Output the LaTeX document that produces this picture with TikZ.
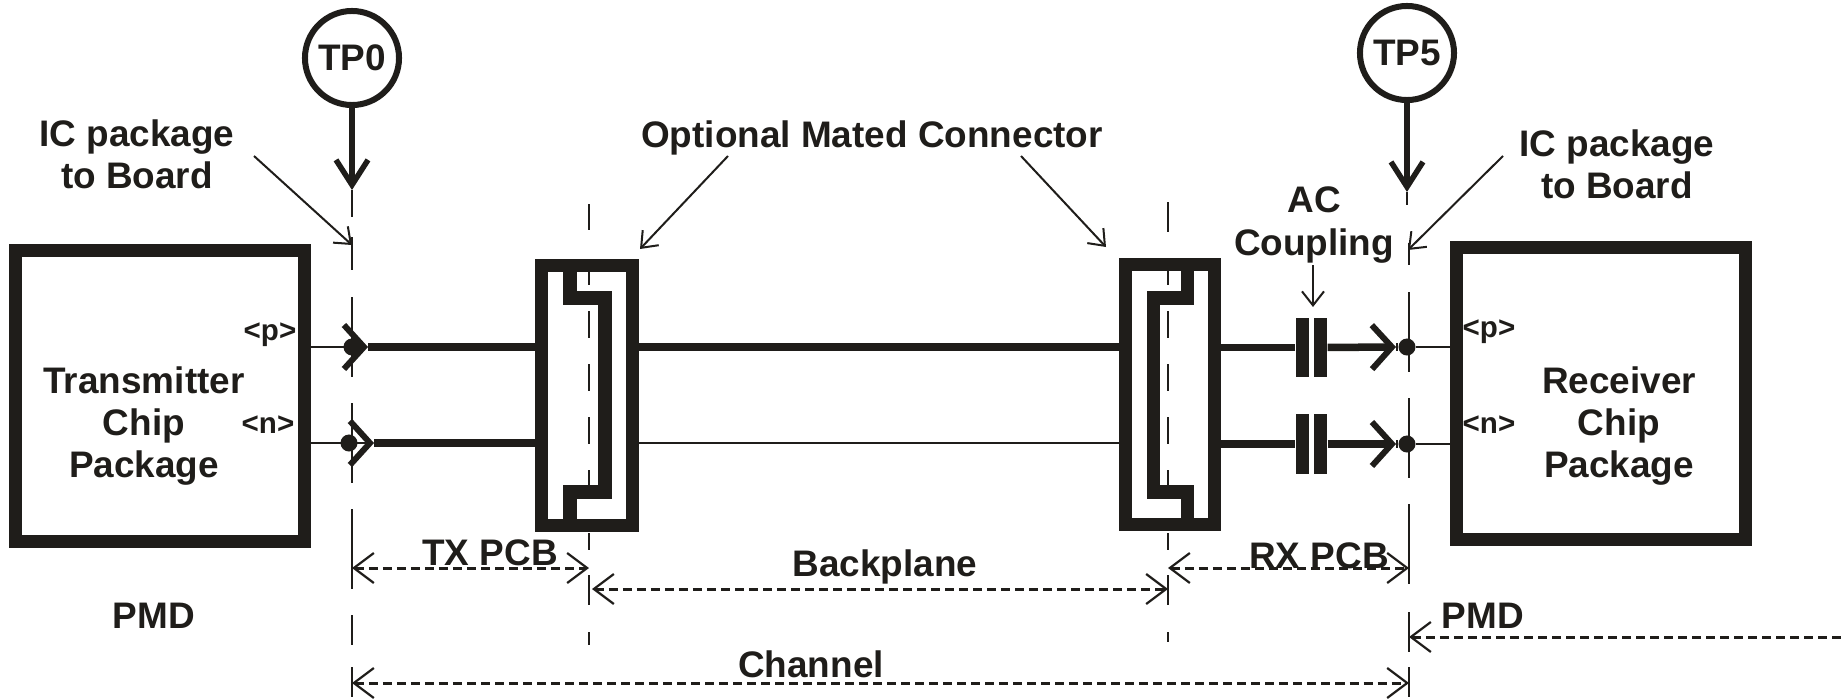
\documentclass[tikz,border=0pt]{standalone}
\usepackage{fontspec}
\setmainfont{Liberation Sans}
\usetikzlibrary{arrows.meta}
\definecolor{ink}{HTML}{1F1D1A}

\begin{document}
\begin{tikzpicture}[
    x=.01cm, y=-.01cm,
    color=ink,
    chip/.style={
      rectangle,
      inner sep=0,
      line width=.13cm,
      minimum width=2.885cm,
      minimum height=2.915cm,
      draw},
    stecker/.style={
      rectangle,
      inner sep=0,
      line width=.13cm,
      minimum height=2.6cm,
      draw},
    steg/.style={line width=.13cm, line join=miter},
    platte/.style={minimum width=.13cm, minimum height=.59cm, inner sep=0, fill=ink},
    tp/.style={
      circle,
      inner sep=0,
      line width=.06cm,
      minimum size=.94cm,
      font=\bfseries\fontsize{10.5}{12}\selectfont,
      draw},
    lötpunkt/.style={circle, fill=ink, inner sep=0, minimum size=.17cm},
    caption/.style={inner sep=0, align=center, font=\bfseries\fontsize{10.5}{12}\selectfont},
    pinname/.style={inner sep=0, anchor=base, font=\bfseries\fontsize{8.4}{10}\selectfont},
    dünn/.style={line width=.025cm},
    dick/.style={line width=.075cm},
    winkel/.style={-{Straight Barb[length=.2cm, width=.44cm, line width=.06cm]}},
    hinweis/.style={line width=.02cm, -{Straight Barb[length=.14cm, width=.22cm, line width=.02cm]}},
    tppfeil/.style={line width=.06cm, -{Straight Barb[length=.25cm, width=.32cm, line width=.055cm]}},
    massgrund/.style={line width=.03cm, dash pattern=on .09cm off .05cm},
    mass/.style={
      massgrund,
      {Straight Barb[length=.2cm, width=.3cm, line width=.022cm]}-{Straight Barb[length=.2cm, width=.3cm, line width=.022cm]}},
    massrest/.style={
      massgrund,
      {Straight Barb[length=.2cm, width=.3cm, line width=.022cm]}-},
    lang/.style={line width=.025cm, dash pattern=on .8cm off .26cm},
    kurz/.style={line width=.025cm, dash pattern=on .27cm off .26cm},
    strich/.style={line width=.025cm}
    ]

  \useasboundingbox (0,0) rectangle (1841,700);

  \node at (160,396) (chip0) [chip] {};
  \node at (1601,393.5) (chip1) [chip] {};
  \node at (587,395.5) (stecker0) [stecker, minimum width=.91cm] {};
  \node at (1170,394.5) (stecker1) [stecker, minimum width=.885cm] {};

  \node at (352,58) (tp0) [tp] {TP0};
  \node at (1407,53) (tp1) [tp] {TP5};

  \node at (352,347) (punkt0) [lötpunkt] {};
  \node at (349,443) (punkt1) [lötpunkt] {};
  \node at (1407,347) (punkt2) [lötpunkt] {};
  \node at (1407,444) (punkt3) [lötpunkt] {};

  \draw[steg] (570,259) -- (570,298) -- (605,298) -- (605,492) -- (570,492) -- (570,530);
  \draw[steg] (1187,259) -- (1187,298) -- (1153,298) -- (1153,492) -- (1187,492) -- (1187,530);

  \node at (1302.5,347.5) (platte0) [platte] {};
  \node at (1320.5,347.5) (platte1) [platte] {};
  \node at (1302.5,444) (platte2) [platte] {};
  \node at (1320.5,444) (platte3) [platte] {};

  \coordinate (spitze0) at (368,347);
  \coordinate (spitze1) at (374,443);
  \coordinate (spitze2) at (1396,347);
  \coordinate (spitze3) at (1396,444);

  % lines on the transmitter side
  \draw[dünn, winkel] (chip0.east |- punkt0) -- (spitze0);
  \draw[dünn, winkel] (chip0.east |- punkt1) -- (spitze1);
  \path[dick] (spitze0) edge (stecker0.west |- spitze0) (spitze1) edge (stecker0.west |- spitze1);

  % backplane
  \draw[dick] (stecker0.east |- punkt0) -- (stecker1.west |- punkt0);
  \draw[dünn] (stecker0.east |- punkt1) -- (stecker1.west |- punkt1);

  % lines on the receiver side
  \path[dick] (stecker1.east |- platte0) edge (platte0) (stecker1.east |- platte2) edge (platte2);
  \draw[dick, winkel] (platte1) -- (spitze2);
  \draw[dick, winkel] (platte3) -- (spitze3);
  \path[dick] (spitze2) edge (punkt2) (spitze3) edge (punkt3);
  \path[dünn] (punkt2) edge (chip1.west |- punkt2) (punkt3) edge (chip1.west |- punkt3);

  % test points
  \coordinate (pfeil0) at (352,190);
  \coordinate (ende0) at (352,217);
  \coordinate (pfeil1) at (1407,192);
  \coordinate (ende1) at (1407,205);
  \draw[tppfeil] (tp0) -- (pfeil0);
  \draw[strich] (pfeil0) -- (ende0);
  \draw[tppfeil] (tp1) -- (pfeil1);
  \draw[strich] (pfeil1) -- (ende1);

  % guide lines
  \foreach \name/\x/\ya/\yb/\stil in {
      a/352/237/270/strich, b/352/297/645/lang, c/352/667/697/strich,
      d/589/204/230/strich, e/589/265/285/strich, f/589/311/485/kurz,
      g/589/533/550/strich, h/589/575/605/strich, i/589/632/645/strich,
      j/1168/202/232/strich, k/1168/265/285/strich, l/1168/311/485/kurz,
      m/1168/533/550/strich, n/1168/575/605/strich, o/1168/632/642/strich,
      p/1409/243/265/strich, q/1409/292/585/lang, r/1409/612/652/strich, s/1409/667/697/strich}
    \draw[\stil] (\x,\ya) coordinate (\name0) -- (\x,\yb) coordinate (\name1);

  % arrows to the labels
  \coordinate (zeiger0) at (254,156);
  \coordinate (ziel0) at (352,245);
  \coordinate (zeiger1) at (728,156);
  \coordinate (ziel1) at (640,249);
  \coordinate (zeiger2) at (1021,156);
  \coordinate (ziel2) at (1106,247);
  \coordinate (zeiger3) at (1503,156);
  \coordinate (ziel3) at (1408,250);
  \coordinate (zeiger4) at (1313,265);
  \coordinate (ziel4) at (1313,307);
  \path[hinweis]
        (zeiger0) edge (ziel0)
        (zeiger1) edge (ziel1)
        (zeiger2) edge (ziel2)
        (zeiger3) edge (ziel3)
        (zeiger4) edge (ziel4)
   ;

  % dimensions
  \coordinate (mass0) at (352,568);
  \coordinate (mass1) at (589,568);
  \coordinate (mass2) at (592,589);
  \coordinate (mass3) at (1168,589);
  \coordinate (mass4) at (1168,568);
  \coordinate (mass5) at (1409,568);
  \coordinate (mass6) at (1409,637);
  \coordinate (mass7) at (1841,637);
  \coordinate (mass8) at (352,683);
  \coordinate (mass9) at (1409,683);
  \path[mass]
        (mass0) edge (mass1)
        (mass2) edge (mass3)
        (mass4) edge (mass5)
        (mass8) edge (mass9)
   ;
  \draw[massrest] (mass6) -- (mass7);

  % texts
  \node at (137,154) (text0) [caption] {IC package\\to Board\hspace{.22cm}};
  \node at (1617,164) (text1) [caption] {IC package\\to Board};
  \node at (872,147) (text2) [caption, anchor=base] {Optional Mated Connector};
  \node at (1314,225) (text3) [caption] {AC\\Coupling};
  \node at (144,426) (text4) [caption] {Transmitter\\Chip\\Package};
  \node at (1619,426) (text5) [caption] {Receiver\\Chip\\Package};
  \node at (490,565) (text6) [caption, anchor=base] {TX PCB};
  \node at (885,576) (text7) [caption, anchor=base] {Backplane};
  \node at (1319,568) (text8) [caption, anchor=base] {RX PCB};
  \node at (154,628) (text9) [caption, anchor=base] {PMD};
  \node at (1483,628) (text10) [caption, anchor=base] {PMD};
  \node at (811,677) (text11) [caption, anchor=base] {Channel};

  \node at (270,340) (pin0) [pinname] {<p>};
  \node at (268,433) (pin1) [pinname] {<n>};
  \node at (1489,337) (pin2) [pinname] {<p>};
  \node at (1489,433) (pin3) [pinname] {<n>};

\end{tikzpicture}
\end{document}
